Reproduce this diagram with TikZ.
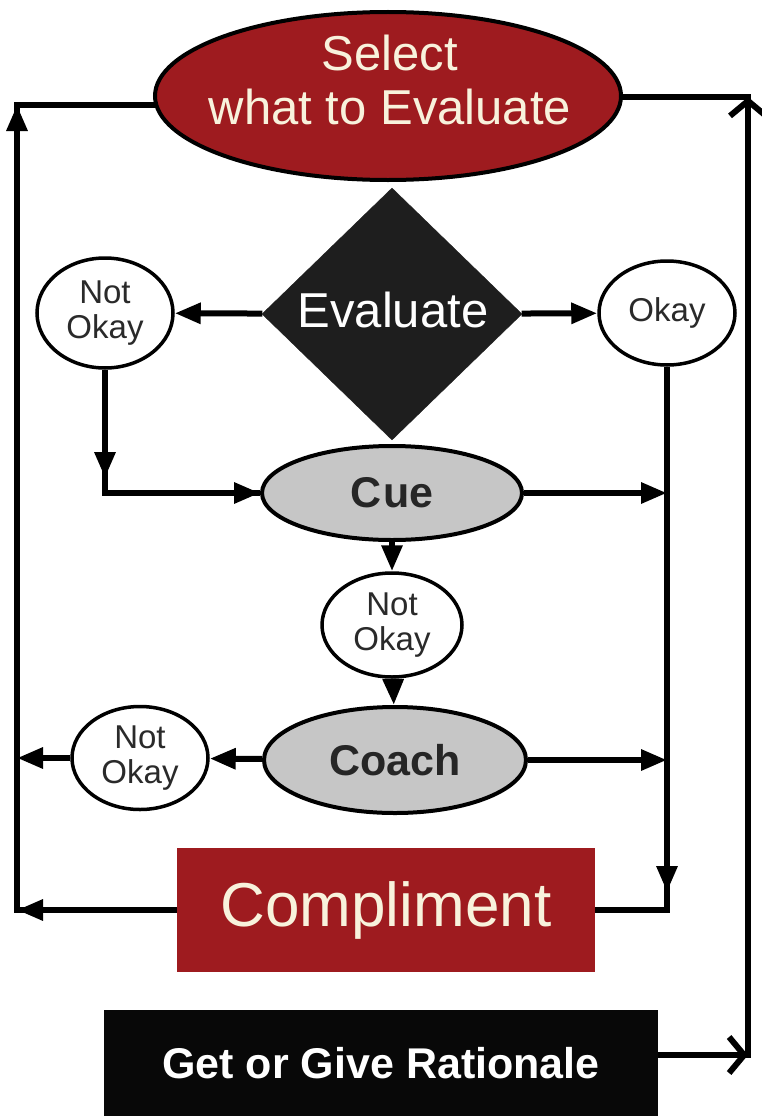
\documentclass[tikz,border=0pt]{standalone}
\usepackage{fontspec}
\setmainfont{Liberation Sans}
\usetikzlibrary{shapes.geometric,arrows.meta,backgrounds}
\definecolor{dred}{HTML}{9E1B1F}
\definecolor{cream}{HTML}{F8F2DC}
\definecolor{lgray}{HTML}{C6C6C6}
\definecolor{dgray}{HTML}{1E1E1E}
\definecolor{txtgray}{HTML}{2A2A2A}
\begin{document}
\begin{tikzpicture}[x=1pt,y=-1pt,
  conn/.style={draw=black,line width=6pt},
  fa/.style={-{Triangle[length=26pt,width=20pt]}},
  oa/.style={-{Straight Barb[length=15pt,width=36pt]}},
  okcirc/.style={ellipse,draw=black,line width=3.5pt,fill=white,inner sep=0pt,
    text=txtgray,font=\fontsize{33}{35}\selectfont,align=center},
  grayell/.style={ellipse,draw=black,line width=4pt,fill=lgray,inner sep=0pt,
    text=black!85,font=\bfseries\fontsize{43}{43}\selectfont},
  redbox/.style={rectangle,fill=dred,inner sep=0pt,text=cream},
  txtlbl/.style={inner sep=0pt,align=center}
]
\useasboundingbox (0,0) rectangle (762,1116);

% nodes
\node[ellipse,draw=black,line width=4pt,fill=dred,minimum width=466pt,
  minimum height=168pt,inner sep=0pt] (select) at (388,96) {};
\node[txtlbl,text=cream,font=\fontsize{49}{54}\selectfont] (selecttx) at (390,80)
  {Select\\what to Evaluate};

\node[diamond,fill=dgray,draw=dgray,minimum width=260pt,minimum height=252pt,
  inner sep=0pt] (eval) at (392,314) {};
\node[txtlbl,text=white,font=\fontsize{49}{54}\selectfont] (evaltx) at (393,310) {Evaluate};

\node[okcirc,minimum width=136pt,minimum height=110pt] (nok1) at (105,313) {Not\\Okay};
\node[okcirc,minimum width=136pt,minimum height=104pt] (ok) at (667,313) {Okay};

\node[grayell,minimum width=260pt,minimum height=94pt] (cue) at (392,493) {C\kern2pt ue};
\node[okcirc,minimum width=140pt,minimum height=104pt] (nok2) at (392,625) {Not\\Okay};
\node[grayell,minimum width=262pt,minimum height=106pt] (coach) at (395,760) {Coach};
\node[okcirc,minimum width=136pt,minimum height=103pt] (nok3) at (140,758) {Not\\Okay};

\node[redbox,minimum width=418pt,minimum height=124pt,
  font=\fontsize{62}{62}\selectfont] (compl) at (386,910) {Compliment};

\node[rectangle,fill=black!97,inner sep=0pt,minimum width=554pt,minimum height=106pt,
  text=white,font=\bfseries\fontsize{43}{43}\selectfont] (rat) at (381,1063) {Get or Give Rationale};

% connectors
\begin{scope}[on background layer]
\coordinate (ltop) at (17,105);
\coordinate (lbot) at (17,910);
\coordinate (rtop) at (748,97);
\coordinate (rbot) at (748,1055);
\coordinate (okb) at (667,910);
\coordinate (okm) at (667,892);
\coordinate (c1) at (105,493);
\coordinate (c1m) at (105,478);

\draw[conn] (compl) -- (lbot) -- (ltop) -- (ltop -| select.center);
\draw[conn,fa] (compl) -- (lbot);
\draw[conn,fa] (lbot) -- (ltop);

\draw[conn] (rat.east |- rbot) -- (rbot) -- (rtop) -- (rtop -| select.center);
\draw[conn,oa] (rat.east |- rbot) -- (rbot);
\draw[conn,oa] (rbot) -- (rtop);

\draw[conn,fa] (eval) -- (nok1);
\draw[conn,fa] (eval) -- (ok);

\draw[conn] (nok1) -- (c1) -- (cue);
\draw[conn,fa] (nok1) -- (c1m);
\draw[conn,fa] (c1) -- (cue);

\draw[conn,fa] (cue) -- (cue -| okb);
\draw[conn,fa] (coach) -- (coach -| okb);

\draw[conn] (ok) -- (okb) -- (compl);
\draw[conn,fa] (ok) -- (okm);

\draw[conn,fa] (cue) -- (nok2);
\draw[conn,fa] (nok2) -- (coach);
\draw[conn,fa] (coach) -- (nok3);
\draw[conn,fa] (nok3) -- (nok3 -| lbot);
\end{scope}
\end{tikzpicture}
\end{document}
